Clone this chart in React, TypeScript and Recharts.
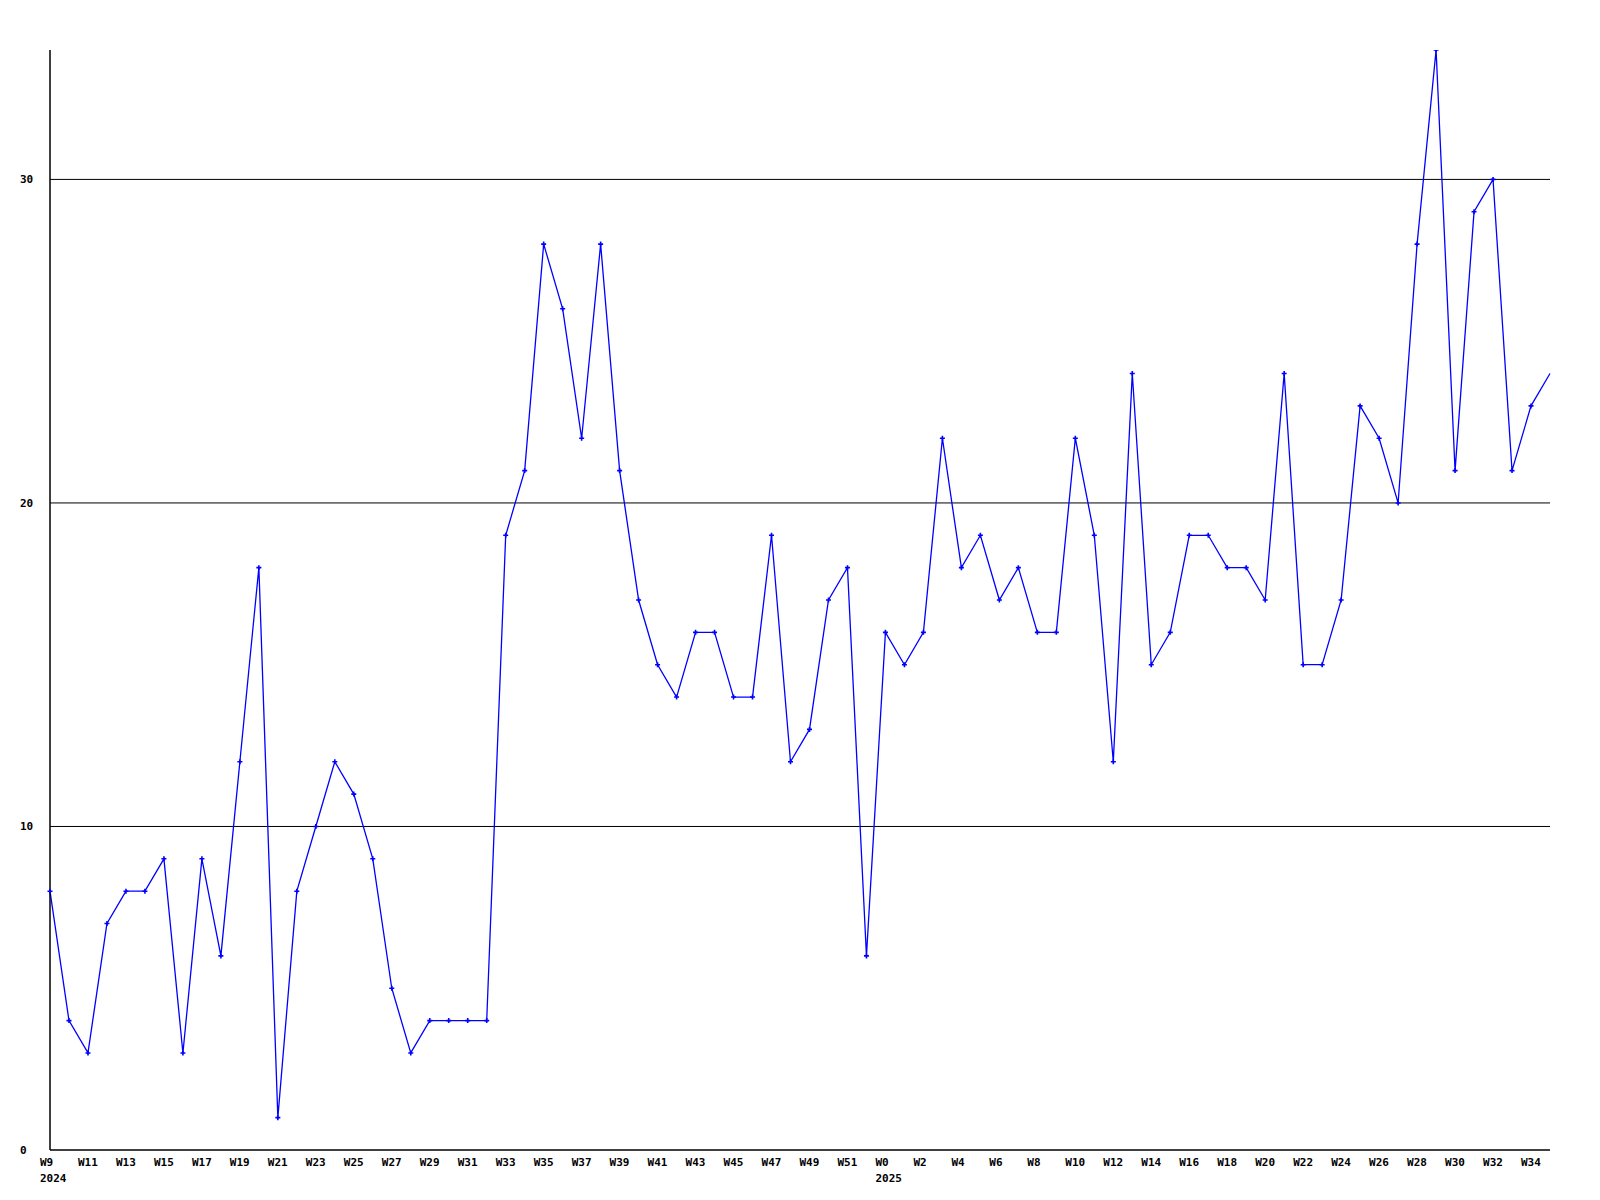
import { LineChart, Line, XAxis, YAxis, ReferenceLine } from 'recharts';

const weekLabels = [
  'W9', 'W10', 'W11', 'W12', 'W13', 'W14', 'W15', 'W16', 'W17', 'W18', 'W19', 'W20',
  'W21', 'W22', 'W23', 'W24', 'W25', 'W26', 'W27', 'W28', 'W29', 'W30', 'W31', 'W32',
  'W33', 'W34', 'W35', 'W36', 'W37', 'W38', 'W39', 'W40', 'W41', 'W42', 'W43', 'W44',
  'W45', 'W46', 'W47', 'W48', 'W49', 'W50', 'W51', 'W52',
  'W0', 'W1', 'W2', 'W3', 'W4', 'W5', 'W6', 'W7', 'W8', 'W9', 'W10', 'W11',
  'W12', 'W13', 'W14', 'W15', 'W16', 'W17', 'W18', 'W19', 'W20', 'W21', 'W22', 'W23',
  'W24', 'W25', 'W26', 'W27', 'W28', 'W29', 'W30', 'W31', 'W32', 'W33', 'W34', 'W35',
];

const values2024 = [
  8, 4, 3, 7, 8, 8, 9, 3, 9, 6, 12, 18, 1, 8, 10, 12, 11, 9, 5, 3, 4, 4,
  4, 4, 19, 21, 28, 26, 22, 28, 21, 17, 15, 14, 16, 16, 14, 14, 19, 12, 13, 17, 18, 6,
];

const values2025 = [
  16, 15, 16, 22, 18, 19, 17, 18, 16, 16, 22, 19, 12, 24, 15, 16, 19, 19,
  18, 18, 17, 24, 15, 15, 17, 23, 22, 20, 28, 34, 21, 29, 30, 21, 23, 24,
];

// year shown under the first week of each year
const yearStartIndex = [0, values2024.length];
const yearLabels = ['2024', '2025'];

const yTicks = [0, 10, 20, 30];
const gridValues = [10, 20, 30];

const allValues = [...values2024, ...values2025];
const data = allValues.map((v, i) => ({ idx: i, week: weekLabels[i], value: v }));

const FONT = '"DejaVu Sans Mono", monospace';

const XTick = ({ x, y, payload, index }: any) => {
  const i = payload.index ?? index;
  if (i % 2 !== 0) return null;
  const yi = yearStartIndex.indexOf(i);
  return (
    <g>
      <text x={x - 10} y={y + 8} fontFamily={FONT} fontWeight="bold" fontSize={11} fill="#000" textAnchor="start">
        {weekLabels[i]}
      </text>
      {yi >= 0 && (
        <text x={x - 10} y={y + 24} fontFamily={FONT} fontWeight="bold" fontSize={11} fill="#000" textAnchor="start">
          {yearLabels[yi]}
        </text>
      )}
    </g>
  );
};

const YTick = ({ y, payload }: any) => (
  <text x={20} y={y + 4} fontFamily={FONT} fontWeight="bold" fontSize={11} fill="#000" textAnchor="start">
    {payload.value}
  </text>
);

const PlusDot = ({ cx, cy, index }: any) => {
  if (index === allValues.length - 1) return <g key={index} />;
  return (
    <path
      key={index}
      d={`M${cx - 2.5},${cy}H${cx + 2.5}M${cx},${cy - 2.5}V${cy + 2.5}`}
      stroke="#0000ff"
      strokeWidth={1.6}
      fill="none"
    />
  );
};

export default function App() {
  return (
    <div style={{ position: 'absolute', left: 0, top: 0, width: 1600, height: 1200, background: '#fff' }}>
      <LineChart width={1600} height={1200} data={data} margin={{ top: 50, right: 50, bottom: 0, left: 0 }}>
        <XAxis
          dataKey="idx"
          type="category"
          interval={0}
          height={50}
          tickLine={false}
          axisLine={{ stroke: '#000', strokeWidth: 1.5 }}
          tick={<XTick />}
          padding={{ left: 0, right: 0 }}
        />
        <YAxis
          width={50}
          domain={[0, 34]}
          ticks={yTicks}
          tickLine={false}
          axisLine={{ stroke: '#000', strokeWidth: 1.5 }}
          tick={<YTick />}
          allowDataOverflow
        />
        {gridValues.map((g) => (
          <ReferenceLine key={g} y={g} stroke="#000" strokeWidth={1} />
        ))}
        <Line
          type="linear"
          dataKey="value"
          stroke="#0000ff"
          strokeWidth={1.3}
          dot={<PlusDot />}
          activeDot={false}
          isAnimationActive={false}
        />
      </LineChart>
    </div>
  );
}
